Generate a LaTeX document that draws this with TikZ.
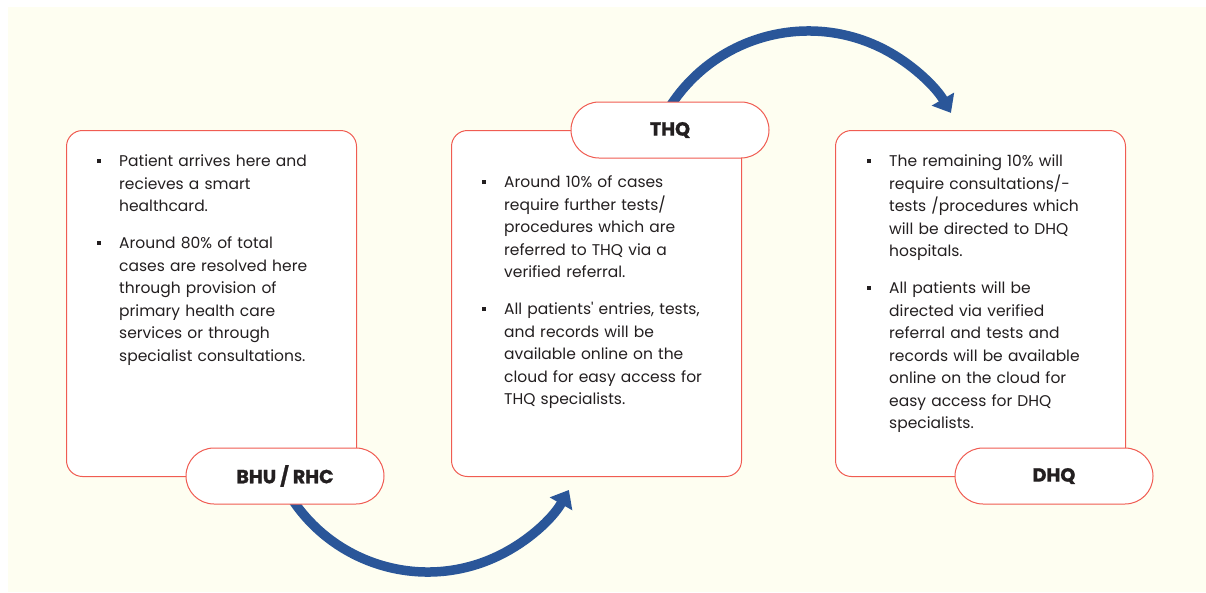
\documentclass[tikz,border=0pt]{standalone}
\usepackage{fontspec}
\setmainfont{Poppins}[Ligatures=TeXOff]
\newfontfamily\labelfont{Poppins}[BoldFeatures={FakeBold=1.2}]
\usetikzlibrary{arrows.meta}

\definecolor{cream}{RGB}{254,254,241}
\definecolor{coral}{RGB}{240,92,82}
\definecolor{flowblue}{RGB}{42,86,153}
\definecolor{ink}{RGB}{35,31,32}

\pgfdeclarelayer{bg}
\pgfdeclarelayer{arrowlayer}
\pgfsetlayers{bg,arrowlayer,main}

% one bulleted paragraph with a hanging indent
\newcommand\bitem[1]{\noindent\hangindent=22.5pt\hangafter=1\makebox[22.5pt][l]{\rule[3.6pt]{4pt}{4pt}}#1\par}
\newcommand\itemgap{\vspace{14.3pt}}

\tikzset{
  card/.style={draw=coral, line width=1pt, fill=white, rounded corners=16pt,
    minimum width=290pt, minimum height=346pt, inner sep=0pt, anchor=north west},
  pill/.style={draw=coral, line width=1pt, fill=white, rounded corners=28pt,
    minimum width=198pt, minimum height=56pt, inner sep=0pt, text=ink,
    font=\fontsize{19}{19}\labelfont\bfseries},
  bodytext/.style={anchor=base west, text width=280pt, inner sep=0pt, align=left,
    text=ink, font=\fontsize{15.5}{22.5}\selectfont},
  flow/.style={draw=flowblue, line width=9.5pt, -{Triangle[length=16pt,width=25pt]}}
}

\begin{document}
\begin{tikzpicture}[x=1pt,y=1pt]
  \useasboundingbox (0,0) rectangle (1206,-592);
  \begin{pgfonlayer}{bg}
    \fill[cream] (8,-7) rectangle (1206,-592);
  \end{pgfonlayer}

  % the three level cards
  \node[card] (box1) at (66,-130) {};
  \node[card] (box2) at (451,-130) {};
  \node[card] (box3) at (835,-130) {};

  % level labels
  \node[pill] (bhu) at (285,-476) {BHU / RHC};
  \node[pill] (thq) at (670,-130) {THQ};
  \node[pill] (dhq) at (1054,-476) {DHQ};

  % card texts
  \node[bodytext] (t1) at (96.5,-166.7) {%
    \bitem{Patient arrives here and\newline recieves a smart\newline healthcard.}\itemgap
    \bitem{Around 80\% of total\newline cases are resolved here\newline through provision of\newline primary health care\newline services or through\newline specialist consultations.}};

  \node[bodytext] (t2) at (481.5,-187.7) {%
    \bitem{Around 10\% of cases\newline require further tests/\newline procedures which are\newline referred to THQ via a\newline verified referral.}\itemgap
    \bitem{All patients' entries, tests,\newline and records will be\newline available online on the\newline cloud for easy access for\newline THQ specialists.}};

  \node[bodytext] (t3) at (866.5,-166.7) {%
    \bitem{The remaining 10\% will\newline require consultations/-\newline tests /procedures which\newline will be directed to DHQ\newline hospitals.}\itemgap
    \bitem{All patients will be\newline directed via verified\newline referral and tests and\newline records will be available\newline online on the cloud for\newline easy access for DHQ\newline specialists.}};

  % referral arrows, passing under the labels
  \begin{pgfonlayer}{arrowlayer}
    \draw[flow] ([shift={(-4.7,-2.1)}]bhu.center)
      arc[start angle=205, end angle=330.3, radius=162.6];
    \draw[flow] ([shift={(-4.2,16.6)}]thq.center)
      arc[start angle=150, end angle=30.2, radius=164.8];
  \end{pgfonlayer}
\end{tikzpicture}
\end{document}
